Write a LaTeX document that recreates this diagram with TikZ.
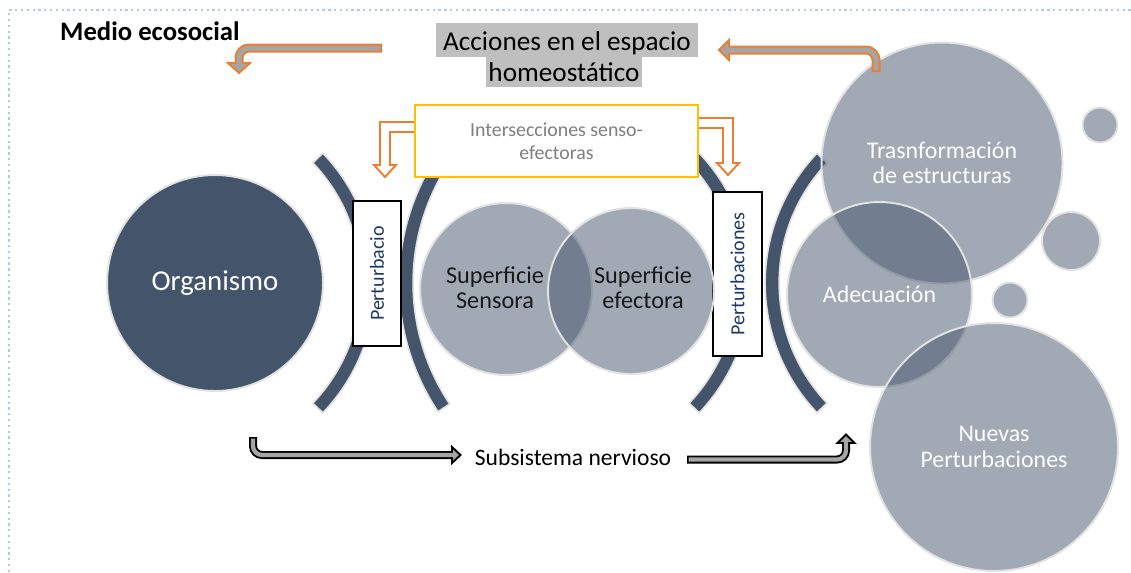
\documentclass[tikz,border=0pt]{standalone}
\usepackage{fontspec}
\setmainfont{Carlito}
\usetikzlibrary{calc}
\definecolor{dk}{HTML}{44546A}
\definecolor{rim}{HTML}{E2E2E2}
\definecolor{org}{HTML}{ED7D31}
\definecolor{arrgray}{HTML}{A5A5A5}
\definecolor{hl}{HTML}{BFBFBF}
\definecolor{yel}{HTML}{FFC000}
\definecolor{navy}{HTML}{1F3864}
\definecolor{framec}{HTML}{B4C7E7}
\definecolor{txtgray}{HTML}{7F7F7F}
\begin{document}
\begin{tikzpicture}[x=0.02cm,y=-0.02cm,
  bubble/.style={circle, fill=dk, fill opacity=0.5, text opacity=1, draw=rim, line width=1.1pt,
    inner sep=0pt, text=white, align=center, font=\fontsize{13.6}{14.6}\selectfont},
  orgcirc/.style={circle, fill=dk, draw=rim, line width=1.1pt, inner sep=0pt, minimum size=4.32cm,
    text=white, font=\fontsize{16.4}{19}\selectfont},
  arcband/.style={fill=dk, draw=rim, line width=0.9pt},
  pbox/.style={draw=black, fill=white, line width=0.7pt, inner sep=0pt, text=navy,
    font=\fontsize{11.4}{13}\selectfont},
  hlbox/.style={fill=hl, inner xsep=0pt, inner ysep=0pt, anchor=base, font=\fontsize{15.5}{18}\selectfont},
  suptext/.style={align=center, text=black!90, font=\fontsize{13.8}{14.3}\selectfont},
  orgline/.style={draw=org, line width=0.18cm, rounded corners=0.2cm},
  orgfill/.style={draw=arrgray, line width=0.1cm, rounded corners=0.2cm},
  orghead/.style={fill=arrgray, draw=org, line width=1.1pt, line join=miter},
  blkline/.style={draw=black, line width=0.16cm, rounded corners=0.18cm},
  blkfill/.style={draw=arrgray, line width=0.085cm, rounded corners=0.18cm},
  blkhead/.style={fill=arrgray, draw=black, line width=1.1pt},
  hollow/.style={draw=org, fill=white, line width=1.1pt},
]
\useasboundingbox (0,0) rectangle (1131,572);
% dotted frame
\draw[framec, dotted, line width=1.3pt] (9,572) -- (9,10) -- (1131,10);

% title texts
\node[font=\bfseries\fontsize{15.2}{18}\selectfont, anchor=base west] (medio) at (54,40) {Medio ecosocial};
\node[hlbox, minimum width=5.24cm, text height=0.54cm, text depth=0.14cm] (acc1) at (567,50) {Acciones en el espacio};
\node[hlbox, minimum width=3.14cm, text height=0.48cm, text depth=0.12cm] (acc2) at (564,81) {homeostático};

% Organismo
\node[orgcirc] (orgn) at (215,283) {Organismo};

% arcs
\path[arcband] ($(187,283)+(-43.7:3.76cm)$) arc[start angle=-43.7,end angle=43.7,radius=3.76cm]
  -- ($(187,283)+(43.7:3.48cm)$) arc[start angle=43.7,end angle=-43.7,radius=3.48cm] -- cycle;
\path[arcband] ($(631,283)+(146.3:4.64cm)$) arc[start angle=146.3,end angle=213.7,radius=4.64cm]
  -- ($(631,283)+(213.7:4.36cm)$) arc[start angle=213.7,end angle=146.3,radius=4.36cm] -- cycle;
\path[arcband] ($(562,283)+(-43.4:3.78cm)$) arc[start angle=-43.4,end angle=43.4,radius=3.78cm]
  -- ($(562,283)+(43.4:3.50cm)$) arc[start angle=43.4,end angle=-43.4,radius=3.50cm] -- cycle;
\path[arcband] ($(953.6,283)+(136.5:3.77cm)$) arc[start angle=136.5,end angle=223.5,radius=3.77cm]
  -- ($(953.6,283)+(223.5:3.49cm)$) arc[start angle=223.5,end angle=136.5,radius=3.49cm] -- cycle;

% perturbation boxes
\node[pbox, rotate=90, minimum width=2.9cm, minimum height=0.96cm] (p1) at (377,273.5) {Perturbacio};
\node[pbox, rotate=90, minimum width=3.28cm, minimum height=0.98cm] (p2) at (737.5,274) {Perturbaciones};

% superficie circles
\node[bubble, minimum size=3.44cm] (sens) at (506,289) {};
\node[bubble, minimum size=3.32cm] (efec) at (631,291) {};
\node[suptext] (tsens) at (495,288) {Superficie\\Sensora};
\node[suptext] (tefec) at (643,288) {Superficie\\efectora};

% intersecciones box
\node[draw=yel, line width=1.4pt, fill=white, minimum width=5.66cm, minimum height=1.44cm, inner sep=0pt,
  text=txtgray, align=center, font=\fontsize{11.3}{13}\selectfont] (inter) at (556.5,141) {Intersecciones senso-\\efectoras};
% hollow arrows
\path[hollow] (inter.west |- 0,122) -- (380,122) -- (380,165) -- (374,165) -- (385,177) -- (396,165)
  -- (390,165) -- (390,132) -- (inter.west |- 0,132);
\path[hollow] (inter.east |- 0,118) -- (733,118) -- (733,163) -- (739,163) -- (728,175) -- (717,163)
  -- (723,163) -- (723,128) -- (inter.east |- 0,128);

% right circles
\node[bubble, minimum size=4.82cm] (trans) at (942,163) {Trasnformación\\de estructuras};
\node[bubble, minimum size=3.7cm] (adec) at (879.5,294.5) {Adecuación};
\node[bubble, minimum size=4.96cm] (nuevas) at (994,447) {Nuevas\\Perturbaciones};
\node[bubble, minimum size=0.7cm] (sm1) at (1100,125) {};
\node[bubble, minimum size=1.16cm] (sm2) at (1071,241) {};
\node[bubble, minimum size=0.7cm] (sm3) at (1010,300) {};

% orange arrows
\coordinate (la) at (382,48);
\coordinate (lb) at (239,48);
\coordinate (lc) at (239,63);
\path[orgline] (la) -- (lb) -- (lc);
\path[orghead] ($(lc)+(-11,0)$) -- ($(lc)+(11,0)$) -- ($(lc)+(0,10)$) -- cycle;
\path[orgfill] ($(la)+(-1.8,0)$) -- (lb) -- ($(lc)+(0,1.5)$);

\coordinate (ra) at (876,72);
\coordinate (rb) at (876,50);
\coordinate (rc) at (729,50);
\path[orgline] (ra) -- (rb) -- (rc);
\path[orghead] ($(rc)+(0,-10)$) -- ($(rc)+(0,10)$) -- ($(rc)+(-10,0)$) -- cycle;
\path[orgfill] ($(ra)+(0,-1.8)$) -- (rb) -- ($(rc)+(-1.5,0)$);

% subsistema
\node[font=\fontsize{13.4}{16}\selectfont, anchor=base] (sub) at (573,465) {Subsistema nervioso};
\coordinate (ba) at (253,437);
\coordinate (bb) at (253,455);
\coordinate (bc) at (452,455);
\path[blkline] (ba) -- (bb) -- (bc);
\path[blkhead] ($(bc)+(0,-8)$) -- ($(bc)+(0,8)$) -- ($(bc)+(8.5,0)$) -- cycle;
\path[blkfill] ($(ba)+(0,1.6)$) -- (bb) -- ($(bc)+(1.5,0)$);

\coordinate (ca) at (687,459.5);
\coordinate (cb) at (846,459.5);
\coordinate (cc) at (846,443);
\path[blkline] (ca) -- (cb) -- (cc);
\path[blkhead] ($(cc)+(-8.5,0)$) -- ($(cc)+(8.5,0)$) -- ($(cc)+(0,-8.5)$) -- cycle;
\path[blkfill] ($(ca)+(1.6,0)$) -- (cb) -- ($(cc)+(0,-1.5)$);
\end{tikzpicture}
\end{document}
